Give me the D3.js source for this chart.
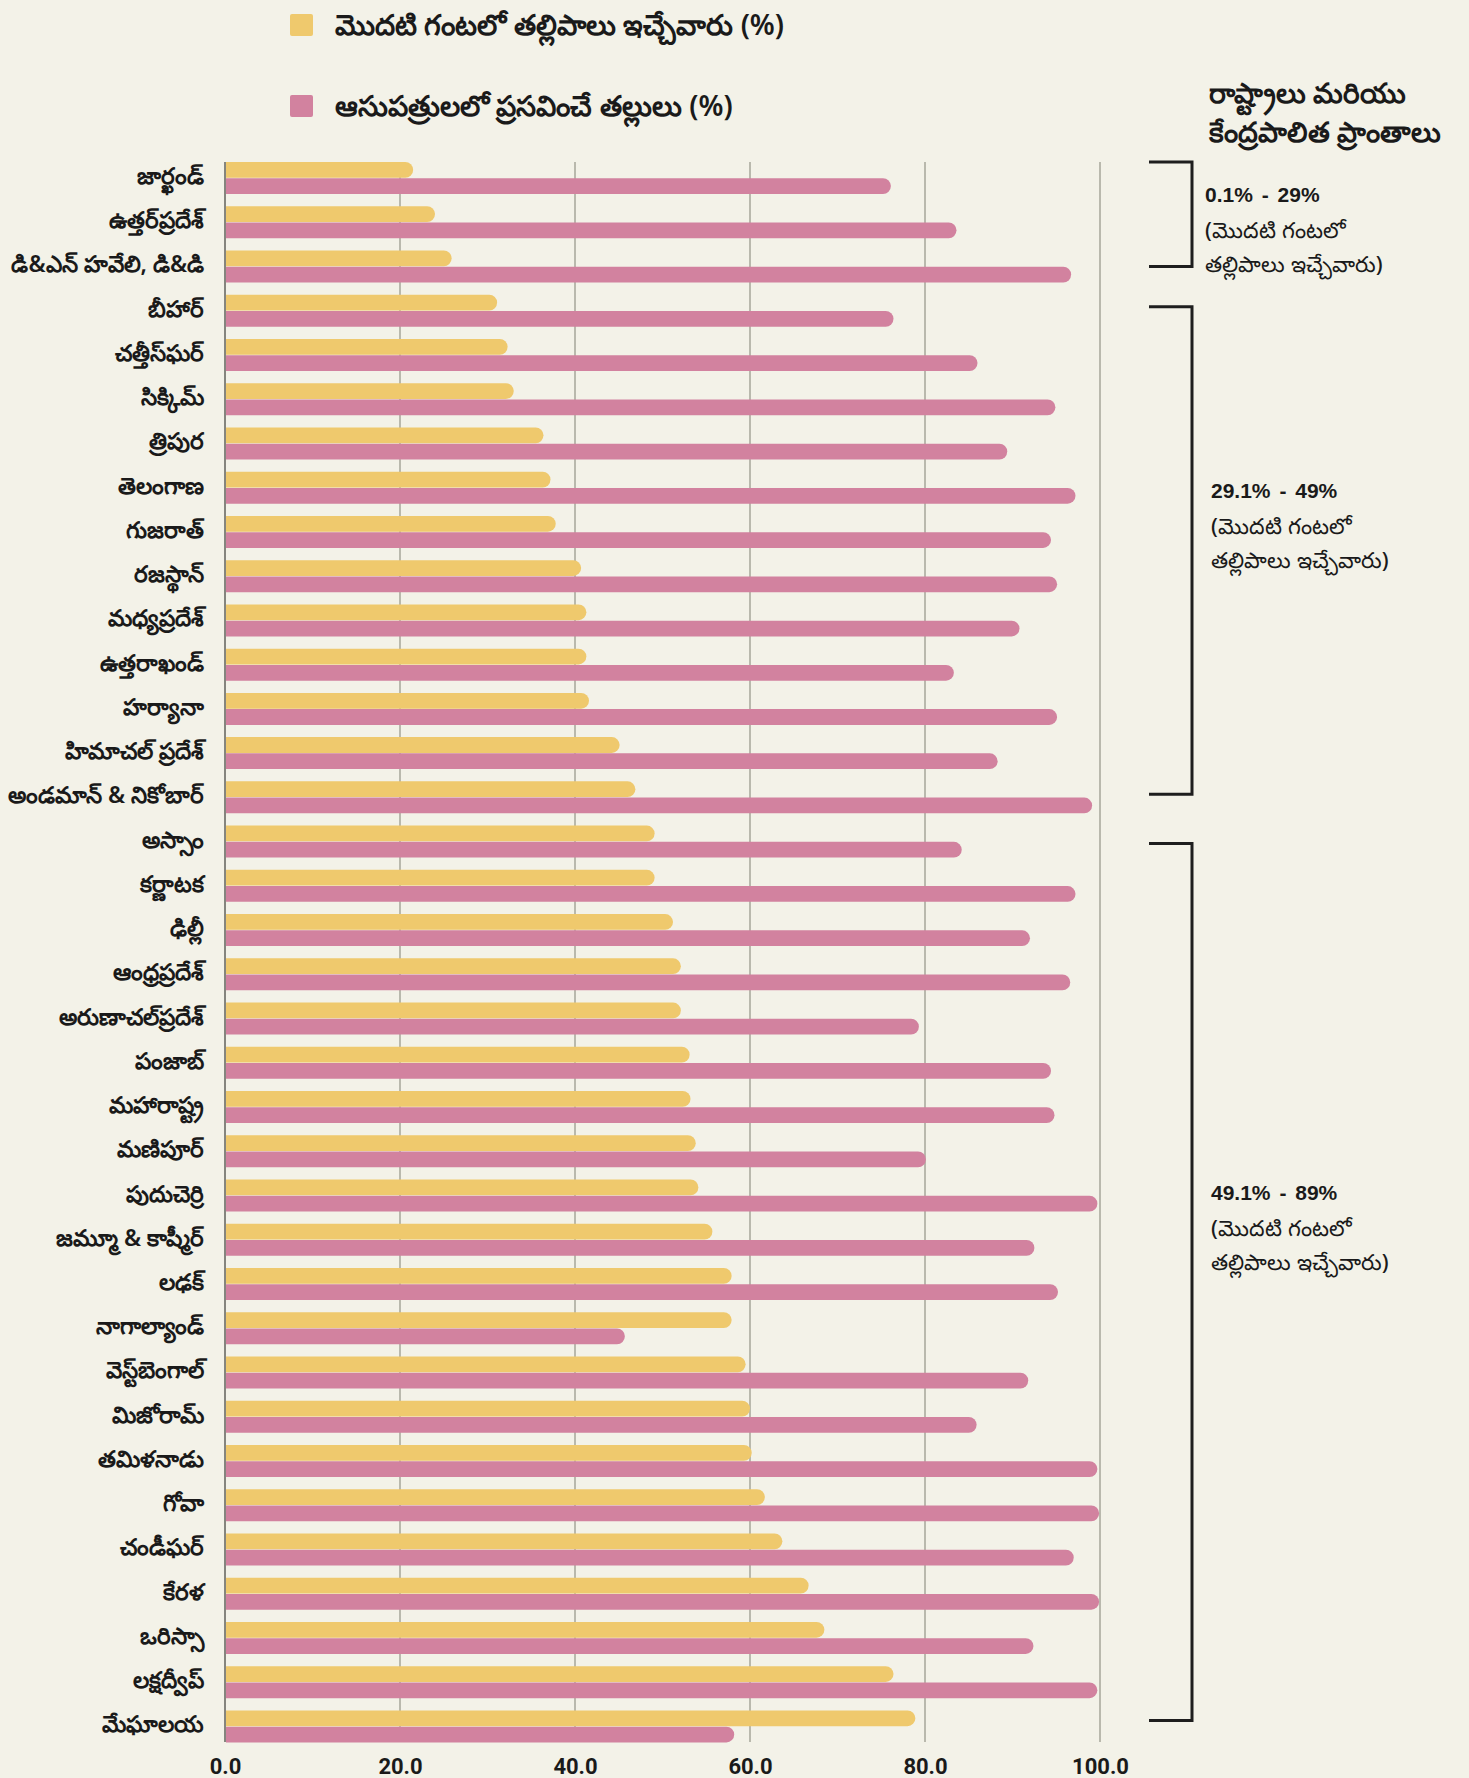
<!DOCTYPE html>
<html>
<head>
<meta charset="utf-8">
<script src="https://cdn.jsdelivr.net/npm/d3@7"></script>
<style>
  body { margin: 0; background: #f3f2e8; }
  text { font-family: "Noto Sans", Roboto, "DejaVu Sans", sans-serif; fill: #1a1a1a; }
</style>
</head>
<body>
<div id="chart"></div>
<script>
// data
var states = ["జార్ఖండ్", "ఉత్తర్‌ప్రదేశ్", "డి&ఎన్ హవేలి, డి&డి", "బీహార్", "చత్తీస్‌ఘర్", "సిక్కిమ్",
  "త్రిపుర", "తెలంగాణ", "గుజరాత్", "రజస్థాన్", "మధ్యప్రదేశ్", "ఉత్తరాఖండ్", "హర్యానా",
  "హిమాచల్ ప్రదేశ్", "అండమాన్ & నికోబార్", "అస్సాం", "కర్ణాటక", "ఢిల్లీ", "ఆంధ్రప్రదేశ్",
  "అరుణాచల్‌ప్రదేశ్", "పంజాబ్", "మహారాష్ట్ర", "మణిపూర్", "పుదుచెర్రి", "జమ్మూ & కాష్మీర్",
  "లఢక్", "నాగాల్యాండ్", "వెస్ట్‌బెంగాల్", "మిజోరామ్", "తమిళనాడు", "గోవా", "చండీఘర్",
  "కేరళ", "ఒరిస్సా", "లక్షద్వీప్", "మేఘాలయ"];
var firstHour = [21.5, 24.0, 25.9, 31.1, 32.3, 33.0, 36.4, 37.2, 37.8, 40.7, 41.3, 41.3, 41.6,
  45.1, 46.9, 49.1, 49.1, 51.2, 52.1, 52.1, 53.1, 53.2, 53.8, 54.1, 55.7, 57.9, 57.9, 59.5,
  60.0, 60.2, 61.7, 63.7, 66.7, 68.5, 76.4, 78.9];
var hospital = [76.1, 83.6, 96.7, 76.4, 86.0, 94.9, 89.4, 97.2, 94.4, 95.1, 90.8, 83.3, 95.1,
  88.3, 99.1, 84.2, 97.2, 92.0, 96.6, 79.3, 94.4, 94.8, 80.1, 99.7, 92.5, 95.2, 45.7, 91.8,
  85.9, 99.7, 99.9, 97.0, 99.9, 92.4, 99.7, 58.2];
var xTicks = [0, 20, 40, 60, 80, 100];
var seriesNames = ["మొదటి గంటలో తల్లిపాలు ఇచ్చేవారు (%)", "ఆసుపత్రులలో ప్రసవించే తల్లులు (%)"];
var groupRanges = ["0.1% - 29%", "29.1% - 49%", "49.1% - 89%"];
var groupFirst = ["జార్ఖండ్", "బీహార్", "అస్సాం"];
var groupLast = ["డి&ఎన్ హవేలి, డి&డి", "అండమాన్ & నికోబార్", "మేఘాలయ"];
var groupNote = ["(మొదటి గంటలో", "తల్లిపాలు ఇచ్చేవారు)"];
var sideTitle = ["రాష్ట్రాలు మరియు", "కేంద్రపాలిత ప్రాంతాలు"];

var W = 1469, H = 1778;
var colors = ["#efc96d", "#d2829f"];

var svg = d3.select("#chart").append("svg")
  .attr("width", W).attr("height", H)
  .style("background", "#f3f2e8");

var x = d3.scaleLinear().domain([0, 100]).range([225, 1100]);
var y = d3.scaleBand().domain(states).range([162, 1742.4]).paddingInner(0.2767).paddingOuter(0);
var sub = d3.scaleBand().domain([0, 1]).range([0, y.bandwidth()]).paddingInner(0.03);

// gridlines
svg.selectAll(".grid").data(xTicks).enter().append("line")
  .attr("x1", d => x(d)).attr("x2", d => x(d))
  .attr("y1", 162).attr("y2", 1742)
  .attr("stroke", d => d === 0 ? "#85857e" : "#b9b9ad")
  .attr("stroke-width", 2);

// bars with rounded right end
function barPath(x0, x1, y0, h) {
  var r = h / 2;
  var xe = Math.max(x0, x1 - r);
  return "M" + x0 + "," + y0 + "H" + xe +
    "A" + r + "," + r + " 0 0 1 " + xe + "," + (y0 + h) +
    "H" + x0 + "Z";
}

[firstHour, hospital].forEach(function (vals, s) {
  svg.selectAll(".bar" + s).data(states).enter().append("path")
    .attr("fill", colors[s])
    .attr("d", function (d, i) {
      return barPath(x(0) + 1, x(vals[i]), y(d) + sub(s), sub.bandwidth());
    });
});

// category labels
svg.selectAll(".lbl").data(states).enter().append("text")
  .attr("x", 204)
  .attr("y", d => y(d) + y.bandwidth() / 2 - 3)
  .attr("text-anchor", "end")
  .attr("dominant-baseline", "central")
  .style("font-size", "23px")
  .style("font-weight", "600")
  .text(d => d);

// x axis labels
var xAxis = svg.append("g")
  .attr("transform", "translate(0,1752)")
  .call(d3.axisBottom(x).tickValues(xTicks).tickSize(0).tickPadding(6).tickFormat(d3.format(".1f")));
xAxis.select(".domain").remove();
xAxis.selectAll("text")
  .style("font-family", "Roboto, sans-serif")
  .style("font-size", "22px")
  .style("font-weight", "700")
  .style("fill", "#1a1a1a");

// legend
var legend = svg.selectAll(".legend").data(seriesNames).enter().append("g")
  .attr("transform", (d, i) => "translate(290," + (14 + i * 81) + ")");
legend.append("rect")
  .attr("width", 23).attr("height", 22).attr("rx", 2)
  .attr("fill", (d, i) => colors[i]);
legend.append("text")
  .attr("x", 45).attr("y", 10)
  .attr("dominant-baseline", "central")
  .style("font-size", "28.5px")
  .style("font-weight", "600")
  .text(d => d);

// side title
svg.selectAll(".stitle").data(sideTitle).enter().append("text")
  .attr("x", 1209)
  .attr("y", (d, i) => 92 + i * 39)
  .attr("dominant-baseline", "central")
  .style("font-size", "28px")
  .style("font-weight", "800")
  .text(d => d);

// brackets
var insetTop = [0, 12, 18], insetBottom = [16, 19, 22];
var textTop = [194, 490, 1192], textX = [1205, 1211, 1211];
groupRanges.forEach(function (g, k) {
  var top = y(groupFirst[k]) + insetTop[k];
  var bot = y(groupLast[k]) + y.bandwidth() - insetBottom[k];
  svg.append("path")
    .attr("d", "M1149," + top + "H1192V" + bot + "H1149")
    .attr("fill", "none")
    .attr("stroke", "#1e1e1e")
    .attr("stroke-width", 3);
  var lines = [g].concat(groupNote);
  svg.selectAll(".gt" + k).data(lines).enter().append("text")
    .attr("x", textX[k])
    .attr("y", (d, i) => textTop[k] + i * 34.5)
    .attr("dominant-baseline", "central")
    .style("font-family", (d, i) => i === 0 ? "'Liberation Sans', Arial, sans-serif" : null)
    .style("font-size", (d, i) => i === 0 ? "21px" : "22px")
    .style("font-weight", (d, i) => i === 0 ? "700" : "500")
    .style("word-spacing", (d, i) => i === 0 ? "3px" : null)
    .text(d => d);
});
</script>
</body>
</html>
